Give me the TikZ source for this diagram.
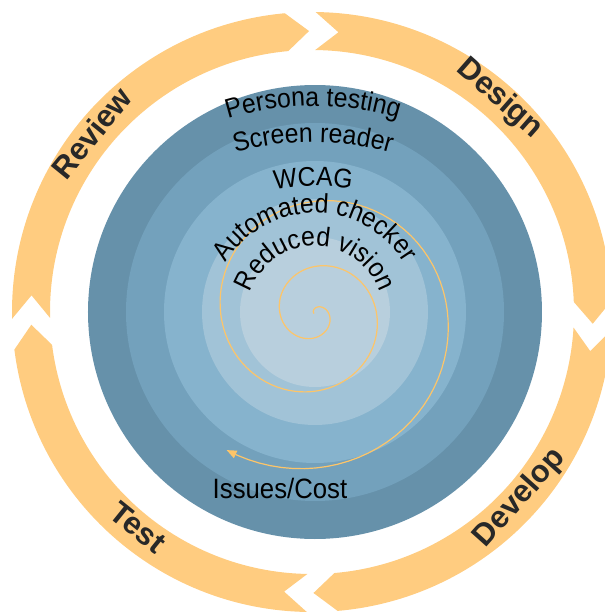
\documentclass[tikz,border=0pt]{standalone}
\usepackage{fontspec}
\setmainfont{Liberation Sans}
\newfontfamily\layerfamily[FakeStretch=0.92]{Liberation Sans}
\usetikzlibrary{decorations.text,arrows.meta}

\definecolor{ringA}{RGB}{102,145,170}
\definecolor{ringB}{RGB}{115,161,188}
\definecolor{ringC}{RGB}{134,179,205}
\definecolor{ringD}{RGB}{161,195,215}
\definecolor{ringE}{RGB}{184,207,221}
\definecolor{cycleorange}{RGB}{255,204,128}
\definecolor{spiralorange}{RGB}{253,197,105}
\definecolor{phasetext}{RGB}{40,40,40}

\newcommand{\layerfont}{\layerfamily\fontsize{27}{30}\selectfont}

\tikzset{
  cyclearrow/.style={fill=cycleorange},
  phase/.style={font=\fontsize{31}{36}\selectfont\bfseries, text=phasetext, inner sep=0pt},
  layer/.style={font=\layerfamily\fontsize{28}{32}\selectfont, inner sep=0pt},
  spiralline/.style={draw=spiralorange, line width=1.2pt},
  layertext/.style={decorate, decoration={text along path, text align=center, text={|\layerfont|#1}}}
}

\begin{document}
\begin{tikzpicture}[x=1pt,y=1pt]
\useasboundingbox (-312,-302) rectangle (293,312);
% cycle arrows
\fill[cyclearrow] (181.3:300pt) arc[start angle=181.3, end angle=95.2, radius=300pt] -- (90.6:281pt) -- (95.2:262pt) arc[start angle=95.2, end angle=181.3, radius=262pt] -- (176.6:281pt) -- cycle;
\fill[cyclearrow] (89.3:300pt) arc[start angle=89.3, end angle=2.2, radius=300pt] -- (-2.4:281pt) -- (2.2:262pt) arc[start angle=2.2, end angle=89.3, radius=262pt] -- (84.6:281pt) -- cycle;
\fill[cyclearrow] (-3.4:300pt) arc[start angle=-3.4, end angle=-85.1, radius=300pt] -- (-89.7:281pt) -- (-85.1:262pt) arc[start angle=-85.1, end angle=-3.4, radius=262pt] -- (-8:281pt) -- cycle;
\fill[cyclearrow] (269:300pt) arc[start angle=269, end angle=187.2, radius=300pt] -- (182.6:281pt) -- (187.2:262pt) arc[start angle=187.2, end angle=269, radius=262pt] -- (264.3:281pt) -- cycle;
\node[phase, rotate=50.9] (review) at (140.9:284pt) {Review};
\node[phase, rotate=-41.3] (design) at (48.7:284pt) {Design};
\node[phase, rotate=48.2] (develop) at (-41.8:279pt) {Develop};
\node[phase, rotate=-38.9] (test) at (231.1:277pt) {Test};
% layers
\fill[ringA] (3,0) circle (227pt);
\fill[ringB] (3,0) circle (189pt);
\fill[ringC] (3,0) circle (151pt);
\fill[ringD] (3,0) circle (113pt);
\fill[ringE] (3,0) circle (75pt);
% spiral
\draw[spiralline, -{Triangle[length=10pt,width=8pt]}] plot[domain=-150:843, samples=240, variable=\t]
  ({3+(14+0.1*\t+0.9*(\t/100)*(\t/100))*cos(-\t)}, {-2+(14+0.1*\t+0.9*(\t/100)*(\t/100))*sin(-\t)});
% layer labels
\path[layertext={Persona testing}, shift={(1,-83)}] (112:289pt) arc[start angle=112, end angle=68, radius=289pt];
\path[layertext={Screen reader}, shift={(1,-110)}] (112:280pt) arc[start angle=112, end angle=68, radius=280pt];
\path[layertext={WCAG}, shift={(1,-94)}] (110:220pt) arc[start angle=110, end angle=70, radius=220pt];
\path[layertext={Automated checker}, shift={(3,-6)}] (160:105pt) arc[start angle=160, end angle=20, radius=105pt];
\path[layertext={Reduced vision}, shift={(3,-2)}] (170:68pt) arc[start angle=170, end angle=10, radius=68pt];
\node[layer, anchor=base] (issues) at (-32,-186) {Issues/Cost};
\end{tikzpicture}
\end{document}
